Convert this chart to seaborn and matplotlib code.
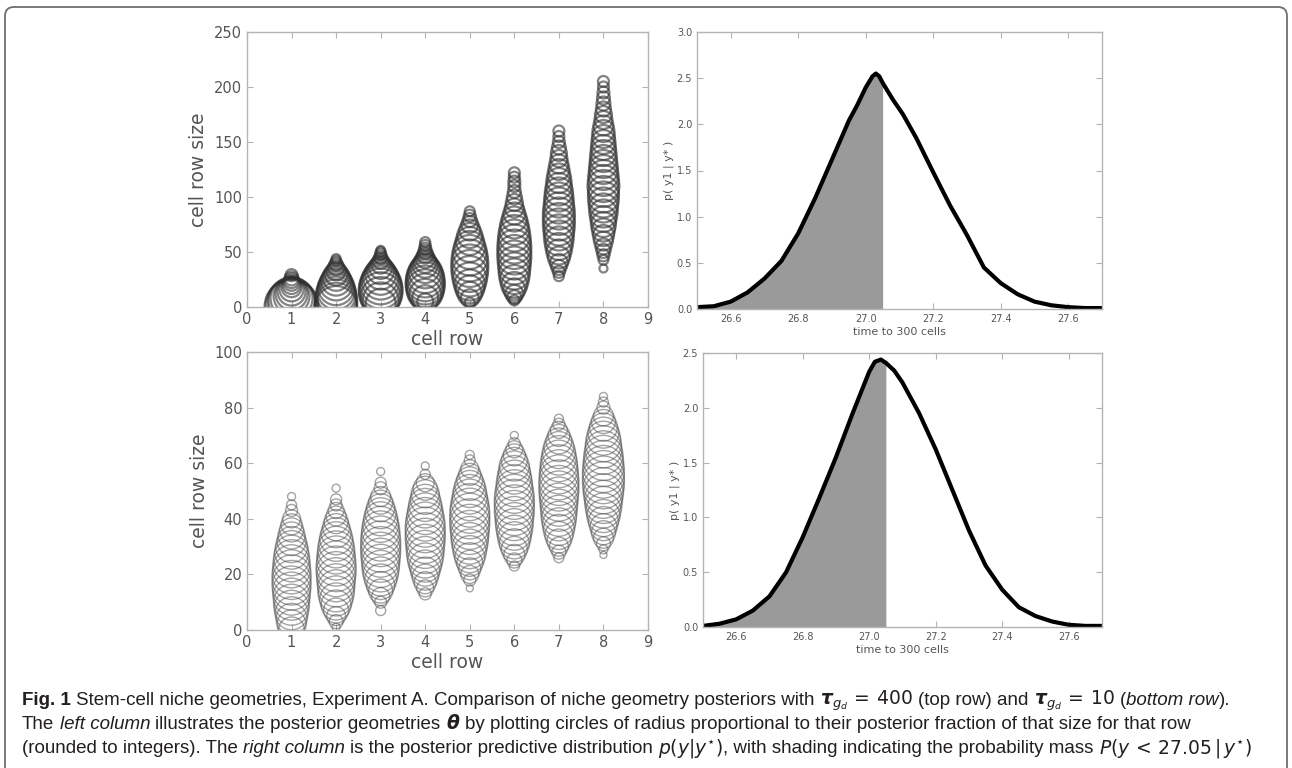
import matplotlib
matplotlib.use("Agg")
import matplotlib.pyplot as plt
from matplotlib.patches import FancyBboxPatch
from matplotlib.transforms import IdentityTransform
import seaborn as sns
import pandas as pd

# Rangées de cellules (colonnes de bulles)
rows = [1, 2, 3, 4, 5, 6, 7, 8]

# tau = 400 (ligne du haut) : tailles de rangée et fraction a posteriori (%)
top_sizes = [
    [0, 2, 4, 6, 8, 10, 12, 14, 16, 18, 20, 22, 24, 26, 29],
    [0, 3, 6, 9, 12, 15, 18, 21, 24, 27, 30, 33, 36, 39, 42, 44],
    [3, 6, 9, 12, 15, 18, 21, 24, 27, 30, 33, 36, 39, 42, 45, 48, 50, 52],
    [5, 8, 11, 14, 17, 20, 23, 26, 29, 32, 35, 38, 41, 44, 47, 50, 53, 56, 59],
    [4, 8, 12, 16, 20, 25, 30, 35, 40, 45, 50, 55, 60, 65, 70, 75, 79, 83, 87],
    [6, 9, 12, 16, 20, 25, 30, 35, 40, 45, 50, 55, 60, 65, 70, 75, 80, 85, 90,
     95, 100, 105, 110, 114, 118, 122],
    [28, 32, 36, 40, 45, 50, 55, 60, 65, 70, 75, 80, 85, 90, 95, 100, 105, 110,
     115, 120, 125, 130, 135, 140, 145, 150, 155, 160],
    [35, 43, 47, 51, 55, 60, 65, 70, 75, 80, 85, 90, 95, 100, 105, 110, 115, 120,
     125, 130, 135, 140, 145, 150, 155, 160, 165, 170, 175, 180, 185, 190, 195,
     200, 205],
]
top_frac = [
    [5.4, 5.2, 4.8, 4.6, 4.2, 3.6, 3.2, 2.8, 2.4, 2.0, 1.8, 1.6, 1.5, 1.4, 1.2],
    [4.2, 4.2, 4.2, 4.1, 4.0, 3.8, 3.6, 3.3, 3.0, 2.7, 2.3, 1.9, 1.6, 1.3, 1.0, 0.9],
    [3.0, 3.6, 4.0, 4.3, 4.4, 4.3, 4.1, 3.8, 3.5, 3.1, 2.7, 2.3, 1.9, 1.6, 1.3, 1.1,
     1.0, 0.8],
    [1.6, 2.6, 3.2, 3.6, 3.8, 3.9, 3.9, 3.8, 3.6, 3.3, 2.9, 2.5, 2.2, 1.9, 1.6, 1.4,
     1.2, 1.1, 1.0],
    [1.0, 1.8, 2.4, 2.8, 3.1, 3.4, 3.6, 3.7, 3.7, 3.6, 3.4, 3.1, 2.8, 2.5, 2.1, 1.7,
     1.4, 1.2, 1.0],
    [1.0, 1.4, 1.8, 2.2, 2.6, 2.9, 3.1, 3.2, 3.3, 3.4, 3.4, 3.4, 3.3, 3.2, 3.0, 2.8,
     2.5, 2.2, 1.9, 1.7, 1.5, 1.3, 1.2, 1.2, 1.1, 1.1],
    [1.0, 1.2, 1.5, 1.8, 2.2, 2.5, 2.7, 2.9, 3.0, 3.1, 3.2, 3.2, 3.2, 3.1, 3.0, 2.9,
     2.8, 2.6, 2.5, 2.3, 2.1, 1.9, 1.7, 1.6, 1.4, 1.2, 1.1, 1.1],
    [0.8, 1.0, 1.2, 1.4, 1.6, 1.9, 2.1, 2.3, 2.5, 2.6, 2.8, 2.9, 3.0, 3.1, 3.1, 3.2,
     3.1, 3.0, 2.9, 2.8, 2.7, 2.6, 2.5, 2.4, 2.3, 2.2, 2.0, 1.8, 1.7, 1.5, 1.4, 1.3,
     1.2, 1.1, 1.1],
]

# tau = 10 (ligne du bas)
bot_sizes = [
    [0, 2, 4, 6, 8, 10, 12, 14, 16, 18, 20, 22, 24, 26, 28, 30, 32, 34, 36, 38,
     40, 43, 45, 48],
    [1, 3, 5, 7, 9, 11, 13, 15, 17, 19, 21, 23, 25, 27, 29, 31, 33, 35, 37, 39,
     41, 43, 45, 47, 51],
    [7, 10, 12, 14, 16, 18, 20, 22, 24, 26, 28, 30, 32, 34, 36, 38, 40, 42, 44,
     46, 48, 51, 53, 57],
    [13, 15, 17, 19, 21, 23, 25, 27, 29, 31, 33, 35, 37, 39, 41, 43, 45, 47, 49,
     51, 53, 56, 59],
    [15, 18, 20, 22, 24, 26, 28, 30, 32, 34, 36, 38, 40, 42, 44, 46, 48, 50, 52,
     54, 56, 58, 61, 63],
    [23, 25, 27, 29, 31, 33, 35, 37, 39, 41, 43, 45, 47, 49, 51, 53, 55, 57, 59,
     61, 63, 65, 67, 70],
    [26, 28, 30, 32, 34, 36, 38, 40, 42, 44, 46, 48, 50, 52, 54, 56, 58, 60, 62,
     64, 66, 68, 70, 72, 74, 76],
    [27, 29, 31, 33, 35, 37, 39, 41, 43, 45, 47, 49, 51, 53, 55, 57, 59, 61, 63,
     65, 67, 69, 71, 73, 75, 77, 80, 82, 84],
]
bot_frac = [
    [2.6, 2.9, 3.1, 3.3, 3.5, 3.6, 3.7, 3.8, 3.9, 3.9, 3.9, 3.8, 3.7, 3.6, 3.4, 3.2,
     2.9, 2.7, 2.4, 2.1, 1.8, 1.2, 1.0, 0.8],
    [0.8, 1.4, 1.9, 2.5, 3.0, 3.3, 3.6, 3.7, 3.8, 3.9, 4.0, 4.0, 3.9, 3.8, 3.7, 3.5,
     3.3, 3.0, 2.7, 2.4, 2.0, 1.6, 1.2, 1.1, 0.8],
    [1.0, 1.2, 1.8, 2.4, 2.8, 3.2, 3.5, 3.7, 3.8, 3.9, 4.0, 4.0, 4.0, 3.9, 3.8, 3.6,
     3.4, 3.1, 2.8, 2.4, 2.0, 1.3, 1.1, 0.8],
    [1.2, 1.7, 2.2, 2.6, 2.9, 3.2, 3.5, 3.7, 3.8, 3.9, 4.0, 4.0, 4.0, 3.9, 3.7, 3.5,
     3.3, 3.0, 2.8, 2.4, 1.8, 1.0, 0.8],
    [0.7, 1.2, 1.8, 2.2, 2.6, 3.0, 3.3, 3.5, 3.7, 3.8, 3.9, 4.0, 4.0, 4.0, 3.9, 3.7,
     3.5, 3.3, 3.0, 2.6, 2.2, 1.8, 1.1, 0.9],
    [1.0, 1.5, 2.1, 2.6, 3.0, 3.3, 3.5, 3.7, 3.8, 3.9, 4.0, 4.0, 4.0, 3.9, 3.7, 3.6,
     3.4, 3.2, 3.0, 2.6, 2.2, 1.7, 1.2, 0.8],
    [1.0, 1.4, 1.9, 2.4, 2.8, 3.1, 3.3, 3.5, 3.6, 3.7, 3.8, 3.9, 4.0, 4.0, 4.0, 3.9,
     3.8, 3.7, 3.5, 3.3, 3.0, 2.6, 2.2, 1.7, 1.2, 0.9],
    [0.7, 0.9, 1.4, 2.0, 2.4, 2.7, 3.0, 3.3, 3.5, 3.7, 3.8, 4.0, 4.1, 4.2, 4.2, 4.2,
     4.1, 4.0, 3.9, 3.7, 3.6, 3.4, 3.1, 2.8, 2.4, 2.0, 1.3, 1.0, 0.8],
]

# Densité prédictive p(y1 | y*) : temps pour atteindre 300 cellules
top_t = [26.50, 26.55, 26.60, 26.65, 26.70, 26.75, 26.80, 26.85, 26.90, 26.95,
         26.975, 27.00, 27.02, 27.03, 27.04, 27.05, 27.08, 27.11, 27.15, 27.20,
         27.25, 27.30, 27.35, 27.40, 27.45, 27.50, 27.55, 27.60, 27.65, 27.70]
top_p = [0.02, 0.03, 0.08, 0.18, 0.33, 0.52, 0.82, 1.20, 1.62, 2.04,
         2.21, 2.40, 2.52, 2.55, 2.52, 2.45, 2.27, 2.11, 1.85, 1.48,
         1.12, 0.80, 0.45, 0.28, 0.16, 0.08, 0.04, 0.02, 0.01, 0.01]
bot_t = [26.50, 26.55, 26.60, 26.65, 26.70, 26.75, 26.80, 26.85, 26.90, 26.95,
         27.00, 27.017, 27.035, 27.05, 27.075, 27.10, 27.15, 27.20, 27.25, 27.30,
         27.35, 27.40, 27.45, 27.50, 27.55, 27.60, 27.65, 27.70]
bot_p = [0.01, 0.03, 0.07, 0.15, 0.28, 0.50, 0.82, 1.18, 1.55, 1.95,
         2.33, 2.42, 2.44, 2.41, 2.34, 2.23, 1.95, 1.62, 1.25, 0.88,
         0.56, 0.34, 0.18, 0.10, 0.05, 0.02, 0.01, 0.01]
t_cut = 27.05

W, H = 1292, 768
sns.set_theme(style="white")
plt.rcParams["font.family"] = ["DejaVu Sans"]

grey_txt = "#555555"
grey_ax = "#b4b4b4"


def bubbles_df(sizes, fracs):
    lignes = []
    for r, ss, ff in zip(rows, sizes, fracs):
        for s, f in zip(ss, ff):
            # rayon proportionnel à la fraction : 1 % -> 10 px de diamètre
            area = (f * 10 * 0.72) ** 2
            lignes.append((r, s, area))
    return pd.DataFrame(lignes, columns=["row", "size", "area"])


def style_axes(ax, labsize):
    for sp in ax.spines.values():
        sp.set_color(grey_ax)
        sp.set_linewidth(1.0)
    ax.tick_params(direction="in", top=True, right=True, length=4, width=0.8,
                   colors=grey_ax, labelcolor=grey_txt, labelsize=labsize,
                   bottom=True, left=True)


def bubbles(ax, sizes, fracs, ymax, ystep, lw, ec, alpha):
    df = bubbles_df(sizes, fracs)
    lo, hi = df["area"].min(), df["area"].max()
    sns.scatterplot(data=df, x="row", y="size", size="area", sizes=(lo, hi),
                    size_norm=(lo, hi), legend=False, ax=ax, marker="o",
                    facecolor="none", edgecolor=ec, linewidth=lw,
                    alpha=alpha)
    ax.set_xlim(0, 9)
    ax.set_ylim(0, ymax)
    ax.set_xticks(range(0, 10))
    ax.set_yticks(range(0, ymax + 1, ystep))
    ax.set_xlabel("cell row", fontsize=13.5, color=grey_txt, labelpad=2)
    ax.set_ylabel("cell row size", fontsize=13.5, color=grey_txt)
    style_axes(ax, 10.5)


def density(ax, t, p, ymax):
    sns.lineplot(x=t, y=p, ax=ax, color="black", linewidth=3.0, sort=False,
                 solid_joinstyle="round", solid_capstyle="round")
    tt = [v for v in t if v <= t_cut]
    pp = p[:len(tt)]
    ax.fill_between(tt, pp, color="#9a9a9a", linewidth=0)
    ax.set_xlim(26.5, 27.7)
    ax.set_ylim(0, ymax)
    ax.set_xticks([26.6, 26.8, 27.0, 27.2, 27.4, 27.6])
    ax.set_yticks([v * 0.5 for v in range(int(ymax * 2) + 1)])
    ax.yaxis.set_major_formatter(matplotlib.ticker.FormatStrFormatter("%.1f"))
    ax.set_xlabel("time to 300 cells", fontsize=8, color=grey_txt, labelpad=2)
    ax.set_ylabel("p( y1 | y* )", fontsize=8, color=grey_txt, labelpad=2)
    style_axes(ax, 7)


fig = plt.figure(figsize=(W / 100, H / 100), dpi=100)
ax_tl = fig.add_axes([247 / W, 1 - 307 / H, 401 / W, 275 / H])
ax_bl = fig.add_axes([247 / W, 1 - 630 / H, 401 / W, 278 / H])
ax_tr = fig.add_axes([697 / W, 1 - 309 / H, 405 / W, 277 / H])
ax_br = fig.add_axes([703 / W, 1 - 627 / H, 399 / W, 274 / H])

bubbles(ax_tl, top_sizes, top_frac, 250, 50, 1.6, "#303030", 0.6)
bubbles(ax_bl, bot_sizes, bot_frac, 100, 20, 1.0, "#4a4a4a", 0.5)
density(ax_tr, top_t, top_p, 3.0)
density(ax_br, bot_t, bot_p, 2.5)

# Cadre arrondi autour de la figure
cadre = FancyBboxPatch((5, -20), 1282, H - 7 + 20,
                       boxstyle="round,pad=0,rounding_size=9",
                       transform=IdentityTransform(), fill=False,
                       edgecolor="#6e6e6e", linewidth=1.3)
fig.patches.append(cadre)

# Légende (texte sous les graphiques)
cap_font = ["Liberation Sans Narrow", "DejaVu Sans Condensed", "Liberation Sans"]
renderer = fig.canvas.get_renderer()

normal = dict()
bold = dict(fontweight="bold")
ital = dict(fontstyle="italic")

ligne1 = [
    ("Fig. 1", bold, False),
    ("Stem-cell niche geometries, Experiment A. Comparison of niche geometry "
     "posteriors with", normal, True),
    (r"$\boldsymbol{\tau}_{g_d}\,=\,400$", normal, True),
    ("(top row) and", normal, True),
    (r"$\boldsymbol{\tau}_{g_d}\,=\,10$", normal, True),
    ("(", normal, True),
    ("bottom row", ital, False),
    (").", normal, False),
]
ligne2 = [
    ("The", normal, False),
    ("left column", ital, True),
    ("illustrates the posterior geometries", normal, True),
    (r"$\boldsymbol{\theta}$", normal, True),
    ("by plotting circles of radius proportional to their posterior fraction "
     "of that size for that row", normal, True),
]
ligne3 = [
    ("(rounded to integers). The", normal, False),
    ("right column", ital, True),
    ("is the posterior predictive distribution", normal, True),
    (r"$p(y|y^{\star})$", normal, True),
    (", with shading indicating the probability mass", normal, False),
    (r"$P(y\,<\,27.05\,|\,y^{\star})$", normal, True),
]


def ligne(y_px, morceaux, taille, garder=True):
    t0 = fig.text(0, 0, "x x", fontsize=taille, family=cap_font)
    t1 = fig.text(0, 0, "xx", fontsize=taille, family=cap_font)
    espace = (t0.get_window_extent(renderer=renderer).width
              - t1.get_window_extent(renderer=renderer).width)
    t0.remove()
    t1.remove()
    x = 22
    poses = []
    for txt, kw, sp in morceaux:
        if sp:
            x += espace
        t = fig.text(x / W, 1 - y_px / H, txt, fontsize=taille,
                     family=cap_font, color="#231f20", va="baseline", **kw)
        x += t.get_window_extent(renderer=renderer).width
        poses.append(t)
    if not garder:
        for t in poses:
            t.remove()
    return x


# taille de police ajustée pour que la ligne la plus longue tienne dans le cadre
fin = max(ligne(705, l, 12, garder=False) for l in (ligne1, ligne3))
cap_size = 12 * (1262 - 22) / (fin - 22)

ligne(705, ligne1, cap_size)
ligne(729, ligne2, cap_size)
ligne(753, ligne3, cap_size)

fig.savefig("out.png", dpi=100)
